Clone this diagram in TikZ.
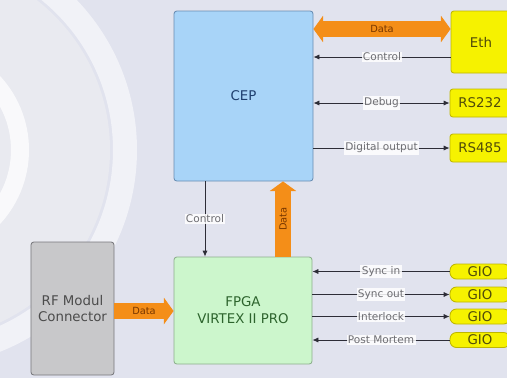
\documentclass[tikz,border=0pt]{standalone}
\usepackage{fontspec}
\setmainfont{DejaVu Sans}
\usetikzlibrary{arrows.meta}

\definecolor{bgLav}{RGB}{225,227,238}
\definecolor{cepBlue}{RGB}{168,212,248}
\definecolor{cepLine}{RGB}{104,140,178}
\definecolor{cepText}{RGB}{30,62,110}
\definecolor{fpgaGreen}{RGB}{204,246,204}
\definecolor{fpgaLine}{RGB}{140,175,140}
\definecolor{fpgaText}{RGB}{45,100,45}
\definecolor{rfGray}{RGB}{200,200,202}
\definecolor{rfLine}{RGB}{120,120,124}
\definecolor{portYellow}{RGB}{246,242,0}
\definecolor{portLine}{RGB}{190,182,0}
\definecolor{portText}{RGB}{80,75,10}
\definecolor{busOrange}{RGB}{244,142,24}
\definecolor{busText}{RGB}{120,55,0}
\definecolor{sigGray}{RGB}{45,45,55}
\definecolor{labelGray}{RGB}{110,110,115}

\begin{document}
\begin{tikzpicture}[x=0.25mm, y=-0.25mm,
    block node/.style={draw=#1, line width=0.6pt, rounded corners=2pt, inner sep=0pt,
        align=center, font=\fontsize{9.5}{12}\selectfont},
    port node/.style={draw=portLine, fill=portYellow, line width=0.6pt, rounded corners=2pt,
        inner sep=0pt, minimum width=15mm, text=portText, font=\fontsize{9.5}{12}\selectfont},
    gio node/.style={port node, rounded corners=1.6mm, minimum height=3.75mm,
        font=\fontsize{9.5}{10}\selectfont},
    sig edge/.style={draw=sigGray, line width=0.6pt},
    sig label/.style={fill=white, fill opacity=0.85, text opacity=1, text=labelGray,
        inner sep=1pt, font=\fontsize{7.5}{8}\selectfont},
    bus edge/.style={draw=busOrange, line width=#1},
    bus edge/.default=4mm,
    bus label/.style={text=busText, inner sep=0pt, font=\fontsize{7}{8}\selectfont},
    sig/.tip={Latex[length=1.5mm, width=1.3mm]},
    bus/.tip={Triangle[length=2.4mm, width=6.5mm]}
]

\useasboundingbox (0,0) rectangle (507,378);
\clip (0,0) rectangle (507,378);

% Hintergrund mit Ringen
\fill[bgLav] (0,0) rectangle (507,378);
\fill[black!5, opacity=0.5] (-80,150) circle (190);
\draw[white, line width=6mm, opacity=0.55] (-80,150) circle (205);
\draw[white, line width=4.5mm, opacity=0.75] (-80,150) circle (100);

% Bloecke
\node[block node=cepLine, fill=cepBlue, text=cepText, minimum width=34.75mm, minimum height=42.5mm]
    (cep) at (243.5,96) {CEP};
\node[block node=fpgaLine, fill=fpgaGreen, text=fpgaText, minimum width=34.5mm, minimum height=26.75mm]
    (fpga) at (243,310.5) {FPGA\\VIRTEX II PRO};
\node[block node=rfLine, fill=rfGray, text=black!70, minimum width=20.75mm, minimum height=33.25mm]
    (rf) at (72.5,308.5) {RF Modul\\Connector};

% Schnittstellen rechts
\node[port node, minimum height=15.5mm] (eth) at (481,42) {Eth};
\node[port node, minimum height=7mm] (rs232) at (480,103) {RS232};
\node[port node, minimum height=7mm] (rs485) at (480,148) {RS485};
\node[gio node] (gio1) at (480,271.5) {GIO};
\node[gio node] (gio2) at (480,294.5) {GIO};
\node[gio node] (gio3) at (480,316.5) {GIO};
\node[gio node] (gio4) at (480,340) {GIO};

% Datenbusse
\draw[bus edge=4.2mm, {bus}-{bus}] (cep.east |- 0,29) -- (eth.west |- 0,29)
    node[bus label, midway] {Data};
\draw[bus edge=3.8mm, -{bus}] (fpga.north -| 283,0) -- (cep.south -| 283,0)
    node[bus label, midway, rotate=90] {Data};
\draw[bus edge=4mm, -{bus}] (rf.east |- 0,311) -- (fpga.west |- 0,311)
    node[bus label, midway] {Data};

% Steuer- und Signalleitungen
\draw[sig edge, -{sig}] (eth.west |- 0,57) -- (cep.east |- 0,57) node[sig label, midway] {Control};
\draw[sig edge, {sig}-{sig}] (cep.east |- rs232) -- (rs232.west) node[sig label, midway] {Debug};
\draw[sig edge, -{sig}] (cep.east |- rs485) -- (rs485.west) node[sig label, midway] {Digital output};
\draw[sig edge, -{sig}] (cep.south -| 205,0) -- (fpga.north -| 205,0) node[sig label, midway] {Control};

\draw[sig edge, -{sig}] (gio1.west) -- (fpga.east |- gio1) node[sig label, midway] {Sync in};
\draw[sig edge, -{sig}] (fpga.east |- gio2) -- (gio2.west) node[sig label, midway] {Sync out};
\draw[sig edge, -{sig}] (fpga.east |- gio3) -- (gio3.west) node[sig label, midway] {Interlock};
\draw[sig edge, -{sig}] (gio4.west) -- (fpga.east |- gio4) node[sig label, midway] {Post Mortem};

\end{tikzpicture}
\end{document}
